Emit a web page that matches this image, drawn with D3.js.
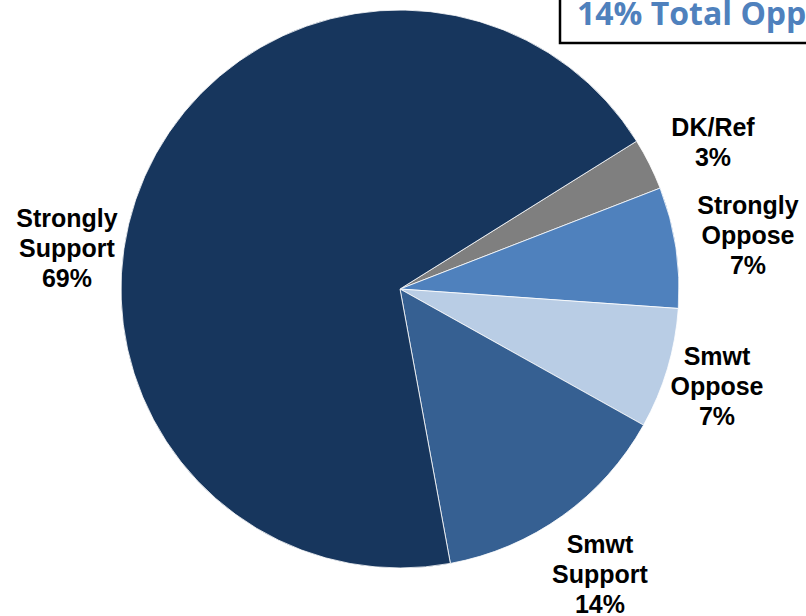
<!DOCTYPE html>
<html>
<head>
<meta charset="utf-8">
<script src="https://cdn.jsdelivr.net/npm/d3@7"></script>
<style>
  html, body { margin: 0; padding: 0; background: #ffffff; }
  svg { display: block; }
</style>
</head>
<body>
<svg id="chart" width="806" height="616"></svg>
<script>
// ---- data ----
const categories = ["DK/Ref", "Strongly Oppose", "Smwt Oppose", "Smwt Support", "Strongly Support"];
const values = [3, 7, 7, 14, 69];
const labelLines = [["DK/Ref"], ["Strongly", "Oppose"], ["Smwt", "Oppose"], ["Smwt", "Support"], ["Strongly", "Support"]];
const colors = ["#7F7F7F", "#4F81BD", "#B9CDE5", "#366092", "#17365D"];
const titleText = "14% Total Opposed";

// ---- layout ----
const svg = d3.select("#chart");
const cx = 400, cy = 289, r = 279;
const start = 58 * Math.PI / 180;

const pie = d3.pie().sort(null).value(d => d).startAngle(start).endAngle(start + 2 * Math.PI);
const arcs = pie(values);
const arc = d3.arc().innerRadius(0).outerRadius(r);

const g = svg.append("g").attr("transform", `translate(${cx},${cy})`);
g.selectAll("path").data(arcs).enter().append("path")
  .attr("d", arc)
  .attr("fill", (d, i) => colors[i])
  .attr("stroke", "#ffffff")
  .attr("stroke-width", 0.8);

// label anchor positions
const labelPos = [[713, 136], [748, 214], [717, 365], [600, 553], [67, 227]];
const lineH = 30;
labelLines.forEach((lines, i) => {
  const all = lines.concat([values[i] + "%"]);
  const t = svg.append("text")
    .attr("text-anchor", "middle")
    .attr("font-family", "'Liberation Sans', Arial, sans-serif")
    .attr("font-weight", "bold")
    .attr("font-size", 25)
    .attr("fill", "#000");
  all.forEach((s, j) => {
    t.append("tspan").attr("x", labelPos[i][0]).attr("y", labelPos[i][1] + j * lineH).text(s);
  });
});

// title box
svg.append("rect")
  .attr("x", 560).attr("y", -10).attr("width", 300).attr("height", 53)
  .attr("fill", "#ffffff").attr("stroke", "#000000").attr("stroke-width", 2.5);
svg.append("text")
  .attr("x", 577).attr("y", 25)
  .attr("font-family", "'Open Sans', Lato, sans-serif")
  .attr("font-weight", "bold")
  .attr("font-size", 32)
  .attr("fill", "#4F81BD")
  .text(titleText);
</script>
</body>
</html>
